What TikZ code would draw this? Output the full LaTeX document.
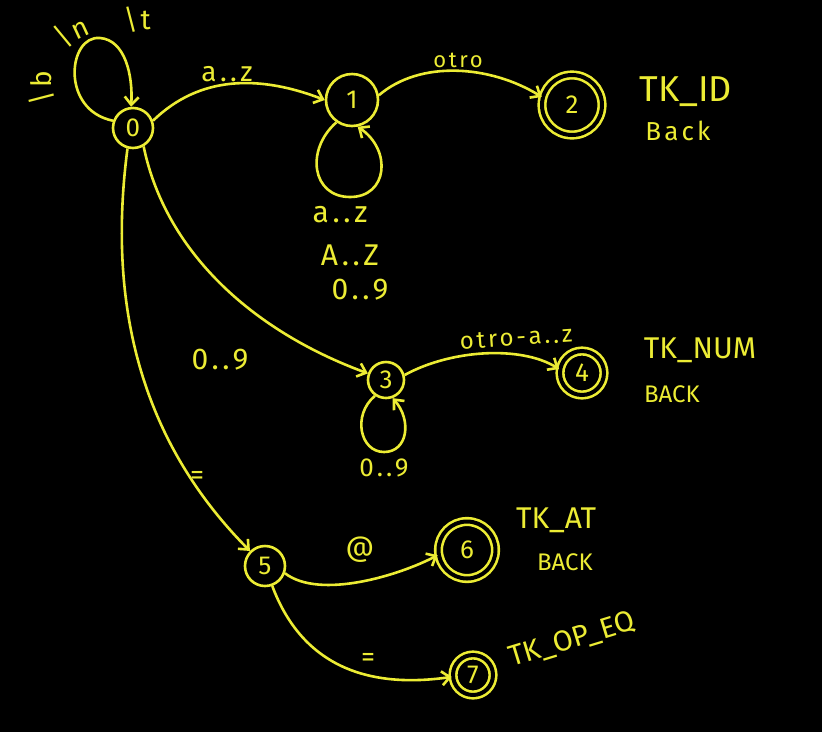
\documentclass[tikz,border=0pt]{standalone}
\usepackage{fontspec}
\setmainfont{Fira Sans}
\newfontfamily\hand[LetterSpace=12]{Fira Sans}
\usetikzlibrary{arrows.meta}
\definecolor{chalk}{RGB}{236,236,52}
\begin{document}
\begin{tikzpicture}[x=1pt,y=-1pt,
  every node/.style={text=chalk},
  state/.style={circle,draw=chalk,line width=2.6pt,inner sep=0pt,font=\fontsize{26}{28}\selectfont},
  accept/.style={state,double=black,double distance=4pt},
  lbl/.style={font=\hand\fontsize{28}{30}\selectfont,inner sep=0pt},
  tr/.style={draw=chalk,line width=2.6pt,-{Straight Barb[length=8pt,width=14pt]}}]
\fill[black] (0,0) rectangle (822,732);
\useasboundingbox (0,0) rectangle (822,732);

% states
\node[state,minimum size=40pt] (n0) at (133,128) {0};
\node[state,minimum size=52pt] (n1) at (352,100) {1};
\node[accept,minimum size=60pt] (n2) at (572,105) {2};
\node[state,minimum size=36pt] (n3) at (386,380) {3};
\node[accept,minimum size=44pt] (n4) at (582,373) {4};
\node[state,minimum size=40pt] (n5) at (265,566) {5};
\node[accept,minimum size=57pt] (n6) at (467,550) {6};
\node[accept,minimum size=40pt] (n7) at (473,675) {7};

% token annotations
\node[inner sep=0pt,font=\fontsize{36}{38}\selectfont] (tkid) at (686,92) {TK\_ID};
\node[inner sep=0pt,font=\hand\fontsize{26}{28}\selectfont] (bk2) at (678,131) {Back};
\node[inner sep=0pt,font=\fontsize{30}{32}\selectfont] (tknum) at (700,350) {TK\_NUM};
\node[inner sep=0pt,font=\fontsize{24}{26}\selectfont] (bk4) at (672,394) {BACK};
\node[inner sep=0pt,font=\fontsize{30}{32}\selectfont] (tkat) at (556,520) {TK\_AT};
\node[inner sep=0pt,font=\fontsize{24}{26}\selectfont] (bk6) at (565,562) {BACK};
\node[inner sep=0pt,font=\fontsize{29}{31}\selectfont,rotate=17] (tkeq) at (572,640) {TK\_OP\_EQ};

% transitions
\draw[tr] (n0.160) .. controls (60,110) and (68,35) .. (100,38) .. controls (125,40) and (133,75) .. (n0.95);
\draw[tr] (n0.20) .. controls (200,75) and (260,75) .. (n1.west);
\draw[tr] (n1.235) .. controls (305,150) and (312,197) .. (350,197) .. controls (388,197) and (392,150) .. (n1.282);
\draw[tr] (n1.10) .. controls (420,60) and (490,65) .. (n2.165);
\draw[tr] (n0.300) .. controls (165,250) and (250,330) .. (n3.160);
\draw[tr] (n3.235) .. controls (352,415) and (360,452) .. (384,452) .. controls (408,452) and (412,420) .. (n3.290);
\draw[tr] (n3.15) .. controls (450,350) and (520,345) .. (n4.170);
\draw[tr] (n0.255) .. controls (105,320) and (150,450) .. (n5.135);
\draw[tr] (n5.-20) .. controls (320,600) and (400,575) .. (n6.190);
\draw[tr] (n5.-70) .. controls (300,660) and (360,690) .. (n7.185);

% transition labels
\node[lbl,rotate=90] (lb) at (42,88) {\textbackslash b};
\node[lbl,rotate=25] (ln) at (72,32) {\textbackslash n};
\node[lbl] (lt) at (137,20) {\textbackslash t};
\node[lbl] (l01) at (227,74) {a..z};
\node[lbl,font=\hand\fontsize{22}{24}\selectfont] (l12) at (458,60) {otro};
\node[lbl,font=\hand\fontsize{30}{32}\selectfont] (l11a) at (340,215) {a..z};
\node[lbl,font=\hand\fontsize{30}{32}\selectfont] (l11b) at (350,255) {A..Z};
\node[lbl,font=\hand\fontsize{30}{32}\selectfont] (l11c) at (360,290) {0..9};
\node[lbl,font=\hand\fontsize{30}{32}\selectfont] (l03) at (220,360) {0..9};
\node[lbl,font=\hand\fontsize{26}{28}\selectfont] (l33) at (384,468) {0..9};
\node[lbl,font=\hand\fontsize{24}{26}\selectfont,rotate=4] (l34) at (516,338) {otro-a..z};
\node[lbl] (l05) at (197,478) {=};
\node[lbl] (l56) at (360,550) {@};
\node[lbl] (l57) at (368,660) {=};
\end{tikzpicture}
\end{document}
